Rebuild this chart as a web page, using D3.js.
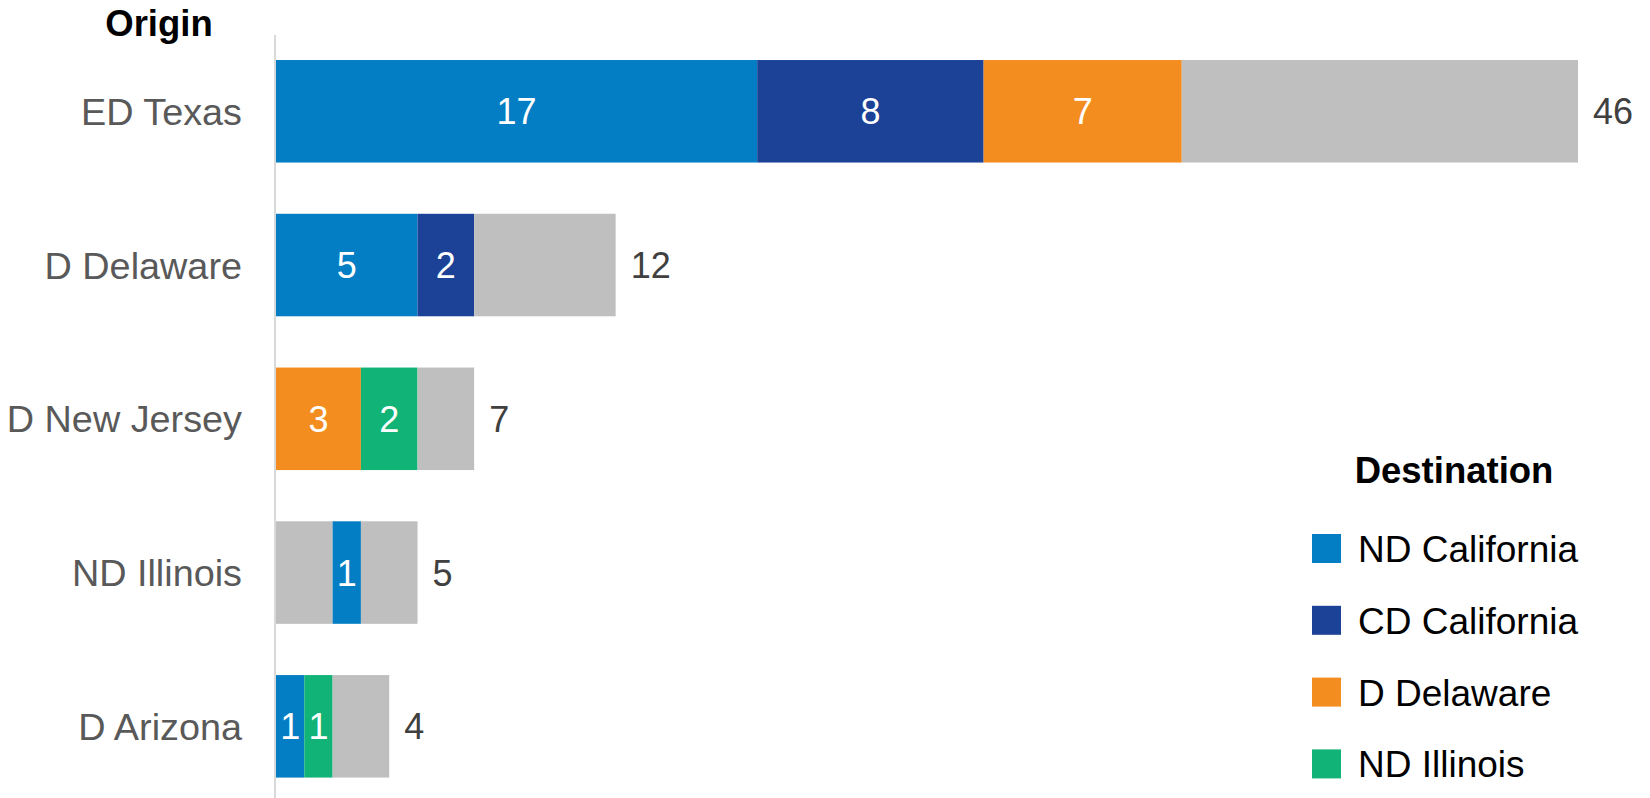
<!DOCTYPE html>
<html>
<head>
<meta charset="utf-8">
<script src="https://cdn.jsdelivr.net/npm/d3@7"></script>
<style>
  body { margin: 0; background: #fff; }
  svg { display: block; font-family: "Liberation Sans", Arial, sans-serif; }
  .cat-label { fill: #595959; font-size: 37.8px; }
  .bar-label { fill: #fff; font-size: 36px; }
  .total-label { fill: #404040; font-size: 36px; }
  .title { fill: #000; font-size: 36.5px; font-weight: bold; }
  .legend-label { fill: #000; font-size: 37px; }
</style>
</head>
<body>
<script>
// Data
const origins = ["ED Texas", "D Delaware", "D New Jersey", "ND Illinois", "D Arizona"];
const destinations = ["ND California", "CD California", "D Delaware", "ND Illinois"];
const destColors = ["#037dc3", "#1b4296", "#f48d20", "#12b376"];
const otherColor = "#bfbfbf";

const otherLead    = [0, 0, 0, 2, 0];
const ndCalifornia = [17, 5, 0, 1, 1];
const cdCalifornia = [8, 2, 0, 0, 0];
const dDelaware    = [7, 0, 3, 0, 0];
const ndIllinois   = [0, 0, 2, 0, 1];
const otherTrail   = [14, 5, 2, 2, 2];

const width = 1650, height = 798;

let keys = ["otherLead", "ND California", "CD California", "D Delaware", "ND Illinois", "otherTrail"];
let series = [otherLead, ndCalifornia, cdCalifornia, dDelaware, ndIllinois, otherTrail];

let rows = origins.map((o, i) => {
  let r = { origin: o };
  keys.forEach((k, j) => r[k] = series[j][i]);
  r.total = d3.sum(series, s => s[i]);
  return r;
});

let color = d3.scaleOrdinal()
              .domain(keys)
              .range([otherColor, ...destColors, otherColor]);

let x = d3.scaleLinear()
          .domain([0, d3.max(rows, d => d.total)])
          .range([276, 1578]);

let y = d3.scaleBand()
          .domain(origins)
          .range([34.4, 803.2])
          .paddingInner(1 / 3)
          .paddingOuter(1 / 6);

let stacked = d3.stack().keys(keys)(rows);

let svg = d3.select("body").append("svg")
            .attr("width", width)
            .attr("height", height);

// Origin axis line
svg.append("line")
   .attr("x1", 275).attr("x2", 275)
   .attr("y1", 35).attr("y2", height)
   .attr("stroke", "#d9d9d9")
   .attr("stroke-width", 2);

// Stacked bars
let layers = svg.selectAll("g.layer")
                .data(stacked)
                .join("g")
                .attr("class", "layer")
                .attr("fill", d => color(d.key));

layers.selectAll("rect")
      .data(d => d)
      .join("rect")
      .attr("x", d => x(d[0]))
      .attr("y", d => y(d.data.origin))
      .attr("width", d => x(d[1]) - x(d[0]))
      .attr("height", y.bandwidth());

// Values inside coloured segments
stacked.filter(s => destinations.includes(s.key)).forEach(s => {
  svg.append("g")
     .selectAll("text")
     .data(s.filter(d => d[1] - d[0] > 0))
     .join("text")
     .attr("class", "bar-label")
     .attr("x", d => (x(d[0]) + x(d[1])) / 2)
     .attr("y", d => y(d.data.origin) + y.bandwidth() / 2 + 13)
     .attr("text-anchor", "middle")
     .text(d => d[1] - d[0]);
});

// Totals
svg.append("g")
   .selectAll("text")
   .data(rows)
   .join("text")
   .attr("class", "total-label")
   .attr("x", d => x(d.total) + 15)
   .attr("y", d => y(d.origin) + y.bandwidth() / 2 + 13)
   .text(d => d.total);

// Category labels
svg.append("g")
   .selectAll("text")
   .data(origins)
   .join("text")
   .attr("class", "cat-label")
   .attr("x", 242)
   .attr("y", d => y(d) + y.bandwidth() / 2 + 13.5)
   .attr("text-anchor", "end")
   .text(d => d);

svg.append("text")
   .attr("class", "title")
   .attr("x", 159)
   .attr("y", 36)
   .attr("text-anchor", "middle")
   .text("Origin");

// Legend
let legend = svg.append("g");

legend.append("text")
      .attr("class", "title")
      .attr("x", 1454)
      .attr("y", 483)
      .attr("text-anchor", "middle")
      .text("Destination");

let items = legend.selectAll("g.item")
                  .data(destinations)
                  .join("g")
                  .attr("class", "item")
                  .attr("transform", (d, i) => `translate(1312, ${534 + i * 71.8})`);

items.append("rect")
     .attr("width", 29)
     .attr("height", 29)
     .attr("fill", d => color(d));

items.append("text")
     .attr("class", "legend-label")
     .attr("x", 46)
     .attr("y", 28)
     .text(d => d);
</script>
</body>
</html>
